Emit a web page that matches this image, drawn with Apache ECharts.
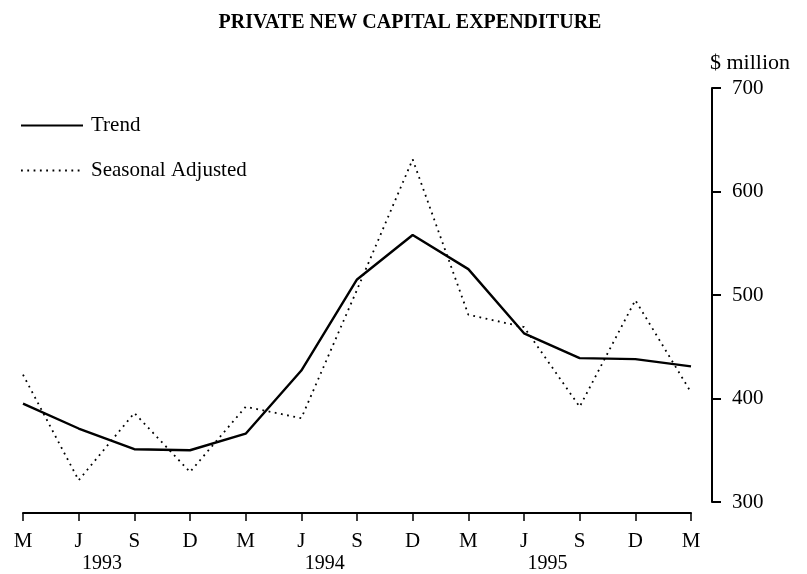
<!DOCTYPE html>
<html>
<head>
<meta charset="utf-8">
<script src="https://cdn.jsdelivr.net/npm/echarts@6/dist/echarts.min.js"></script>
<style>
html,body{margin:0;padding:0;background:#fff;}
#chart{width:807px;height:574px;}
</style>
</head>
<body>
<div id="chart"></div>
<script>
var months = ['M','J','S','D','M','J','S','D','M','J','S','D','M'];
var years = ['1993','1994','1995'];
var yearPos = [1.42, 5.42, 9.42];
var trend = [395, 371, 351, 350, 366, 427, 515, 558, 525, 463, 439, 438, 431];
var seasonal = [423, 321, 386, 329, 392, 381, 505, 631, 481, 469, 392, 495, 406];
var yTicks = [300, 400, 500, 600, 700];

var FONT = '"Liberation Serif", "DejaVu Serif", serif';
var chart = echarts.init(document.getElementById('chart'), null, {renderer:'canvas'});
var option = {
  backgroundColor: '#fff',
  animation: false,
  title: {
    text: 'PRIVATE NEW CAPITAL EXPENDITURE',
    left: 405, top: 8, textAlign: 'center',
    textStyle: {fontFamily: FONT, fontWeight: 'bold', fontSize: 20, color: '#000'}
  },
  legend: {
    orient: 'vertical', left: 15, top: 110,
    itemWidth: 62, itemHeight: 14, itemGap: 24,
    itemStyle: {opacity: 0, borderWidth: 0},
    textStyle: {fontFamily: FONT, fontSize: 21, color: '#000', padding: [0,0,0,3]},
    data: ['Trend', 'Seasonal Adjusted']
  },
  grid: {left: 23, right: 116, top: 88, bottom: 72, containLabel: false},
  xAxis: {
    type: 'category', data: months, boundaryGap: false, offset: 11,
    axisLine: {lineStyle: {color: '#000', width: 2}},
    axisTick: {show: true, length: 8, lineStyle: {color: '#000', width: 1.5}},
    axisLabel: {fontFamily: FONT, fontSize: 21, color: '#000', margin: 18},
    splitLine: {show: false}
  },
  yAxis: {
    type: 'value', position: 'right', min: 300, max: 700, interval: 100, offset: 21,
    name: '$ million', nameLocation: 'end', nameGap: 14,
    nameTextStyle: {fontFamily: FONT, fontSize: 22, color: '#000', align: 'left', padding: [0,0,0,-2]},
    axisLine: {show: true, lineStyle: {color: '#000', width: 2}},
    axisTick: {show: true, length: 9, lineStyle: {color: '#000', width: 2}},
    axisLabel: {fontFamily: FONT, fontSize: 21, color: '#000', margin: 20,
      formatter: function(v){ return yTicks.indexOf(v) >= 0 ? String(v) : ''; }},
    splitLine: {show: false}
  },
  series: [
    {name: 'Trend', type: 'line', data: trend, symbol: 'none',
     lineStyle: {color: '#000', width: 2.4, type: 'solid'}, itemStyle: {color: '#000'}},
    {name: 'Seasonal Adjusted', type: 'line', data: seasonal, symbol: 'none',
     lineStyle: {color: '#000', width: 1.8, type: [1.8, 4.5]}, itemStyle: {color: '#000'}}
  ]
};
chart.setOption(option);

function placeYears(){
  var y0 = chart.convertToPixel({yAxisIndex: 0}, 300);
  var els = years.map(function(t, i){
    var k = Math.floor(yearPos[i]);
    var a = chart.convertToPixel({xAxisIndex: 0}, k);
    var b = chart.convertToPixel({xAxisIndex: 0}, k + 1);
    var x = a + (yearPos[i] - k) * (b - a);
    return {type: 'text', x: x, y: y0 + 62,
      style: {text: t, fontFamily: FONT, fontSize: 20, fill: '#000', align: 'center', verticalAlign: 'middle'}};
  });
  chart.setOption({graphic: els});
}
placeYears();
</script>
</body>
</html>
